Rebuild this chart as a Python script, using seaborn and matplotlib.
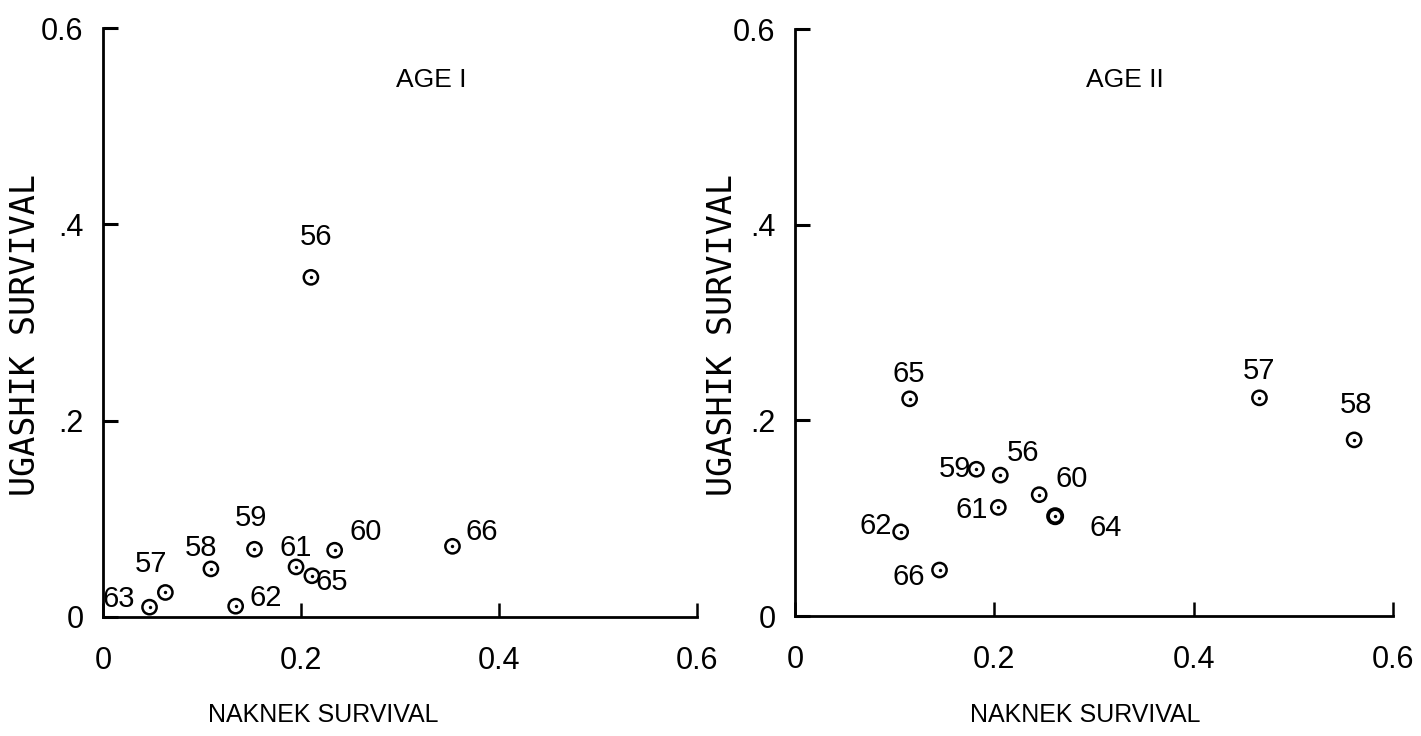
import matplotlib
matplotlib.use("Agg")
import matplotlib.pyplot as plt
import seaborn as sns
import pandas as pd

# Survival of Naknek vs Ugashik sockeye, by brood year
age1_year = ["56", "57", "58", "59", "60", "61", "62", "63", "65", "66"]
age1_naknek = [0.210, 0.063, 0.109, 0.153, 0.234, 0.195, 0.134, 0.047, 0.211, 0.353]
age1_ugashik = [0.346, 0.025, 0.049, 0.069, 0.068, 0.051, 0.011, 0.010, 0.042, 0.072]

age2_year = ["56", "57", "58", "59", "60", "61", "62", "64", "65", "66"]
age2_naknek = [0.206, 0.466, 0.561, 0.182, 0.245, 0.204, 0.106, 0.261, 0.115, 0.145]
age2_ugashik = [0.144, 0.223, 0.180, 0.150, 0.124, 0.111, 0.086, 0.102, 0.222, 0.047]

x_ticks = [0, 0.2, 0.4, 0.6]
x_ticklabels = ["0", "0.2", "0.4", "0.6"]
y_ticks = [0, 0.2, 0.4, 0.6]
y_ticklabels = ["0", ".2", ".4", "0.6"]

# year-label offsets from each point, in pixels
age1_offsets = {"56": (5, 40), "57": (-14, 28), "58": (-10, 21), "59": (-4, 31),
                "60": (31, 18), "61": (0, 19), "62": (30, 8), "63": (-31, 8),
                "65": (20, -6), "66": (29, 14)}
age2_offsets = {"56": (23, 22), "57": (0, 27), "58": (2, 35), "59": (-21, 0),
                "60": (33, 16), "61": (-27, -3), "62": (-25, 6), "64": (51, -12),
                "65": (-1, 25), "66": (-31, -7)}

sns.set_style("white")
narrow = ["Liberation Sans Narrow", "DejaVu Sans Condensed", "Liberation Sans", "DejaVu Sans"]
wide = ["DejaVu Sans Mono", "DejaVu Sans"]
plt.rcParams["font.family"] = narrow
plt.rcParams["text.color"] = "black"
plt.rcParams["xtick.color"] = "black"
plt.rcParams["ytick.color"] = "black"

fig = plt.figure(figsize=(14.21, 7.36), dpi=100)
fig.patch.set_facecolor("white")

W, H = 1421, 736


def panel(rect_px, years, xs, ys, offsets, title, title_xy, bold=()):
    x0, y0, x1, y1 = rect_px
    ax = fig.add_axes([x0 / W, 1 - y1 / H, (x1 - x0) / W, (y1 - y0) / H])
    df = pd.DataFrame({"year": years, "naknek": xs, "ugashik": ys})
    sns.scatterplot(data=df, x="naknek", y="ugashik", ax=ax, marker="o", s=105,
                    color="black", clip_on=False, zorder=3)
    circ = ax.collections[-1]
    circ.set_facecolor("none")
    circ.set_edgecolor("black")
    circ.set_linewidths([2.7 if y in bold else 1.8 for y in years])
    sns.scatterplot(data=df, x="naknek", y="ugashik", ax=ax, marker="o", s=6,
                    color="black", linewidth=0, clip_on=False, zorder=4)
    for yr, xv, yv in zip(years, xs, ys):
        dx, dy = offsets[yr]
        ax.annotate(yr, (xv, yv), xytext=(dx, dy), textcoords="offset pixels",
                    ha="center", va="center", fontsize=21, family=narrow,
                    color="black")
    ax.set_xlim(0, 0.6)
    ax.set_ylim(0, 0.6)
    ax.set_xticks(x_ticks)
    ax.set_xticklabels(x_ticklabels, fontsize=22, family=narrow)
    ax.set_yticks(y_ticks)
    ax.set_yticklabels(y_ticklabels, fontsize=22, family=narrow)
    ax.tick_params(axis="x", bottom=True, direction="in", length=10, width=1.8,
                   pad=21, colors="black")
    ax.tick_params(axis="y", left=True, direction="in", length=11, width=2.2,
                   pad=14, colors="black")
    for side in ("top", "right"):
        ax.spines[side].set_visible(False)
    for side in ("left", "bottom"):
        ax.spines[side].set_linewidth(2.0)
        ax.spines[side].set_color("black")
    ax.set_xlabel("")
    ax.set_ylabel("")
    ax.set_facecolor("none")
    ax.text(title_xy[0], title_xy[1], title, transform=ax.transAxes,
            ha="center", va="center", fontsize=19, family=narrow, color="black")
    return ax


ax1 = panel((103, 28, 697, 617), age1_year, age1_naknek, age1_ugashik,
            age1_offsets, "AGE I", ((431 - 103) / 594, (617 - 80) / 589))
ax2 = panel((795, 29, 1393, 616), age2_year, age2_naknek, age2_ugashik,
            age2_offsets, "AGE II", ((1125 - 795) / 598, (616 - 80) / 587), bold=("64",))

# axis titles
fig.text(323 / W, 1 - 715 / H, "NAKNEK SURVIVAL", ha="center", va="center",
         fontsize=18, family=narrow, color="black")
fig.text(1085 / W, 1 - 715 / H, "NAKNEK SURVIVAL", ha="center", va="center",
         fontsize=18, family=narrow, color="black")
fig.text(26 / W, 1 - 335 / H, "UGASHIK SURVIVAL", ha="center", va="center",
         rotation=90, fontsize=24, family=wide, color="black")
fig.text(722 / W, 1 - 335 / H, "UGASHIK SURVIVAL", ha="center", va="center",
         rotation=90, fontsize=24, family=wide, color="black")

fig.savefig("out.png", dpi=100, facecolor="white")
